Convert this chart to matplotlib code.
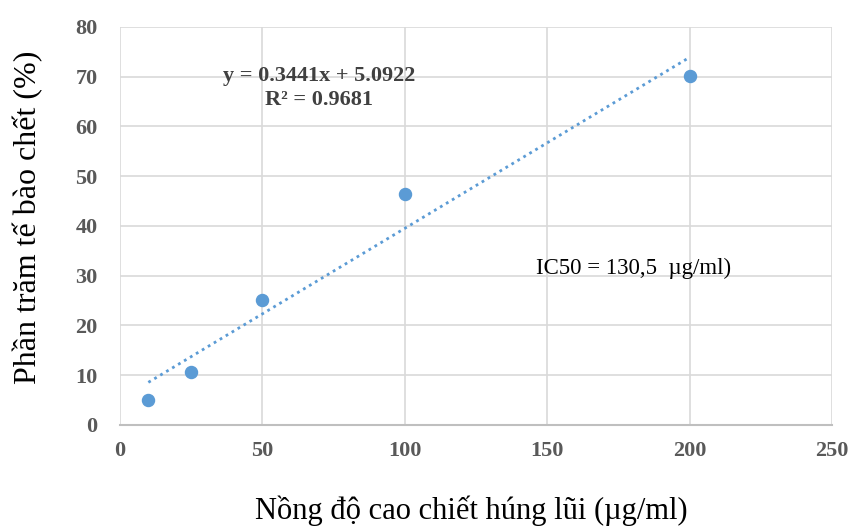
import matplotlib

matplotlib.use("Agg")
import matplotlib.pyplot as plt
import numpy as np

plt.rcParams["font.family"] = ["Liberation Serif", "DejaVu Serif"]

# nồng độ (µg/ml) và phần trăm tế bào chết
conc = [10, 25, 50, 100, 200]
dead_pct = [5.0, 10.7, 25.1, 46.4, 70.2]
slope = 0.3441
intercept = 5.0922
x_ticks = [0, 50, 100, 150, 200, 250]
y_ticks = [0, 10, 20, 30, 40, 50, 60, 70, 80]

fig = plt.figure(figsize=(8.5, 5.29), dpi=100)
ax = fig.add_axes([0.141, 0.197, 0.838, 0.752])

ax.scatter(conc, dead_pct, s=75, color="#5B9BD5", zorder=3)
xt = np.array([conc[0], conc[-1]])
ax.plot(xt, slope * xt + intercept, color="#5B9BD5", linestyle=(0, (1, 1.5)),
        linewidth=2, zorder=2)

ax.set_xlim(0, 250)
ax.set_ylim(0, 80)
ax.set_xticks(x_ticks)
ax.set_yticks(y_ticks)
ax.grid(color="#D9D9D9", linewidth=1.2)
ax.set_axisbelow(True)
for s in ["top", "right", "left"]:
    ax.spines[s].set_visible(False)
ax.spines["bottom"].set_color("#BFBFBF")
ax.spines["bottom"].set_linewidth(1.5)
ax.tick_params(length=0, labelsize=16, labelcolor="#595959")
ax.tick_params(axis="y", pad=16)
ax.tick_params(axis="x", pad=12)
for lbl in ax.get_xticklabels() + ax.get_yticklabels():
    lbl.set_fontweight("bold")

ax.text(70, 70.2, "y = 0.3441x + 5.0922", ha="center", va="center",
        fontsize=16, fontweight="bold", color="#404040")
ax.text(70, 65.3, "R² = 0.9681", ha="center", va="center",
        fontsize=16, fontweight="bold", color="#404040")
ax.text(146, 31.5, "IC50 = 130,5  µg/ml)", ha="left", va="center",
        fontsize=16.5, color="#000000")

fig.text(0.033, 0.59, "Phần trăm tế bào chết (%)", rotation=90, ha="center",
         va="center", fontsize=23)
fig.text(0.554, 0.005, "Nồng độ cao chiết húng lũi (µg/ml)", ha="center",
         va="bottom", fontsize=22)

fig.savefig("out.png", dpi=100)
